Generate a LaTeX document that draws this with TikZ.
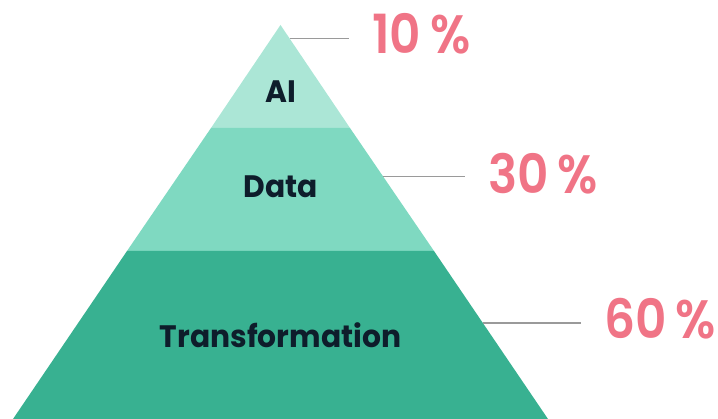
\documentclass[tikz,border=0pt]{standalone}
\usepackage{fontspec}
\newfontfamily\popfont{Poppins}[FakeStretch=0.96]
\newfontfamily\pctfont{Poppins}[UprightFont=* SemiBold,FakeStretch=0.9]
\usetikzlibrary{positioning}
\definecolor{mintA}{HTML}{ABE6D6}
\definecolor{mintB}{HTML}{7FD9C1}
\definecolor{mintC}{HTML}{38B191}
\definecolor{inkdark}{HTML}{0E1D2B}
\definecolor{pinkpct}{HTML}{F07486}
\definecolor{tickgray}{HTML}{9A9A9A}
\tikzset{band label/.style={rectangle,inner sep=0pt,text=inkdark,font=\popfont\bfseries\fontsize{31}{31}\selectfont},
         pct label/.style={rectangle,inner sep=0pt,anchor=west,text=pinkpct,font=\pctfont\fontsize{54}{54}\selectfont},
         tick line/.style={draw=tickgray,line width=1.3pt,shorten >=23pt}
}

\begin{document}
\begin{tikzpicture}[x=1pt,y=-1pt]
\useasboundingbox (0,0) rectangle (718,419);

% pyramid corners
\coordinate (apex) at (280.5,25);
\coordinate (l1) at (211,128);
\coordinate (r1) at (350,128);
\coordinate (l2) at (127,251);
\coordinate (r2) at (434,251);
\coordinate (l3) at (13,419);
\coordinate (r3) at (548,419);

\fill [mintA] (apex) -- (r1) -- (l1) -- cycle;
\fill [mintB] (l1) -- (r1) -- (r2) -- (l2) -- cycle;
\fill [mintC] (l2) -- (r2) -- (r3) -- (l3) -- cycle;

\node [band label] (ai) at (280.5,92) {AI};
\node [band label] (data) at (280.5,187) {Data};
\node [band label] (trans) at (280.5,335.5) {Transformation};

% percentages
\node [pct label] (p10) at (372,34) {10\,\%};
\node [pct label] (p30) at (488,174) {30\,\%};
\node [pct label] (p60) at (604,319) {60\,\%};

\coordinate (e10) at (289.5,38.5);
\coordinate (e30) at (383,176.7);
\coordinate (e60) at (483,323);
\draw [tick line] (e10) -- (e10 -| p10.west);
\draw [tick line] (e30) -- (e30 -| p30.west);
\draw [tick line] (e60) -- (e60 -| p60.west);
\end{tikzpicture}
\end{document}
